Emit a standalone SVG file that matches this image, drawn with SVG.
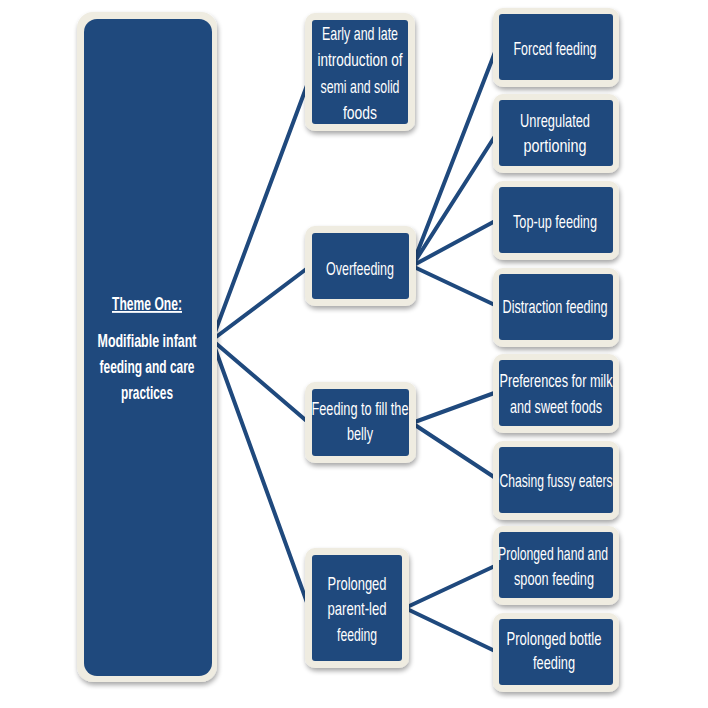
<svg xmlns="http://www.w3.org/2000/svg" width="708" height="708" viewBox="0 0 708 708">
<defs>
<filter id="sh" x="-20%" y="-20%" width="140%" height="140%">
<feGaussianBlur in="SourceAlpha" stdDeviation="2.5"/>
<feOffset dx="1" dy="3" result="b"/>
<feComponentTransfer><feFuncA type="linear" slope="0.35"/></feComponentTransfer>
<feMerge><feMergeNode/><feMergeNode in="SourceGraphic"/></feMerge>
</filter>
</defs>
<style>
.frame{fill:#efece1;filter:url(#sh)}
.box{fill:#1f497d}
.t{fill:#ffffff;font-family:"Liberation Sans",Arial,sans-serif;font-size:19px;text-anchor:middle}
.tb{font-weight:bold;font-size:18.5px}
.c{stroke:#1f497d;stroke-width:4;fill:none;stroke-linecap:round}
</style>
<rect width="708" height="708" fill="#ffffff"/>
<g id="connectors">
<line class="c" x1="212" y1="340" x2="309" y2="80"/>
<line class="c" x1="212" y1="340" x2="309" y2="267"/>
<line class="c" x1="212" y1="340" x2="309" y2="423"/>
<line class="c" x1="212" y1="340" x2="309" y2="608"/>
<line class="c" x1="412" y1="266" x2="497" y2="47"/>
<line class="c" x1="412" y1="266" x2="497" y2="133"/>
<line class="c" x1="412" y1="266" x2="497" y2="220"/>
<line class="c" x1="412" y1="266" x2="497" y2="306"/>
<line class="c" x1="412" y1="423" x2="497" y2="392"/>
<line class="c" x1="412" y1="423" x2="497" y2="479"/>
<line class="c" x1="405" y1="608" x2="497" y2="565"/>
<line class="c" x1="405" y1="608" x2="497" y2="652"/>
</g>
<g id="theme">
<rect class="frame" x="77" y="12" width="140" height="670" rx="16"/>
<rect class="box" x="84" y="19" width="128" height="657" rx="13"/>
<text class="t tb" x="147" y="310" textLength="70" lengthAdjust="spacingAndGlyphs" text-decoration="underline">Theme One:</text>
<text class="t tb" x="147" y="347" textLength="99" lengthAdjust="spacingAndGlyphs">Modifiable infant</text>
<text class="t tb" x="147" y="373" textLength="95" lengthAdjust="spacingAndGlyphs">feeding and care</text>
<text class="t tb" x="147" y="399" textLength="52" lengthAdjust="spacingAndGlyphs">practices</text>
</g>
<g id="early">
<rect class="frame" x="305" y="13" width="110" height="118" rx="10"/>
<rect class="box" x="312" y="20" width="96" height="104" rx="3"/>
<text class="t" x="360" y="40" textLength="76" lengthAdjust="spacingAndGlyphs">Early and late</text>
<text class="t" x="360" y="66" textLength="85" lengthAdjust="spacingAndGlyphs">introduction of</text>
<text class="t" x="360" y="93" textLength="79" lengthAdjust="spacingAndGlyphs">semi and solid</text>
<text class="t" x="360" y="119" textLength="34" lengthAdjust="spacingAndGlyphs">foods</text>
</g>
<g id="overfeeding">
<rect class="frame" x="305" y="226" width="111" height="80" rx="10"/>
<rect class="box" x="312" y="233" width="97" height="66" rx="3"/>
<text class="t" x="360" y="275" textLength="68" lengthAdjust="spacingAndGlyphs">Overfeeding</text>
</g>
<g id="fill">
<rect class="frame" x="305" y="382" width="111" height="81" rx="10"/>
<rect class="box" x="312" y="389" width="97" height="67" rx="3"/>
<text class="t" x="360" y="415" textLength="97" lengthAdjust="spacingAndGlyphs">Feeding to fill the</text>
<text class="t" x="360" y="440" textLength="26" lengthAdjust="spacingAndGlyphs">belly</text>
</g>
<g id="parentled">
<rect class="frame" x="305" y="548" width="104" height="120" rx="10"/>
<rect class="box" x="312" y="555" width="90" height="106" rx="3"/>
<text class="t" x="357" y="590" textLength="59" lengthAdjust="spacingAndGlyphs">Prolonged</text>
<text class="t" x="357" y="615" textLength="59" lengthAdjust="spacingAndGlyphs">parent-led</text>
<text class="t" x="357" y="641" textLength="40" lengthAdjust="spacingAndGlyphs">feeding</text>
</g>
<g id="forced">
<rect class="frame" x="493" y="8" width="126" height="79" rx="10"/>
<rect class="box" x="499" y="14" width="114" height="66" rx="3"/>
<text class="t" x="555" y="55" textLength="83" lengthAdjust="spacingAndGlyphs">Forced feeding</text>
</g>
<g id="unregulated">
<rect class="frame" x="493" y="94" width="126" height="79" rx="10"/>
<rect class="box" x="499" y="100" width="114" height="66" rx="3"/>
<text class="t" x="555" y="127" textLength="70" lengthAdjust="spacingAndGlyphs">Unregulated</text>
<text class="t" x="555" y="152" textLength="63" lengthAdjust="spacingAndGlyphs">portioning</text>
</g>
<g id="topup">
<rect class="frame" x="493" y="181" width="126" height="79" rx="10"/>
<rect class="box" x="499" y="187" width="114" height="66" rx="3"/>
<text class="t" x="555" y="228" textLength="84" lengthAdjust="spacingAndGlyphs">Top-up feeding</text>
</g>
<g id="distraction">
<rect class="frame" x="493" y="268" width="126" height="79" rx="10"/>
<rect class="box" x="499" y="274" width="114" height="66" rx="3"/>
<text class="t" x="555" y="313" textLength="105" lengthAdjust="spacingAndGlyphs">Distraction feeding</text>
</g>
<g id="preferences">
<rect class="frame" x="493" y="354" width="126" height="79" rx="10"/>
<rect class="box" x="499" y="360" width="114" height="66" rx="3"/>
<text class="t" x="556" y="387" textLength="113" lengthAdjust="spacingAndGlyphs">Preferences for milk</text>
<text class="t" x="556" y="413" textLength="92" lengthAdjust="spacingAndGlyphs">and sweet foods</text>
</g>
<g id="chasing">
<rect class="frame" x="493" y="441" width="126" height="79" rx="10"/>
<rect class="box" x="499" y="447" width="114" height="66" rx="3"/>
<text class="t" x="556" y="487" textLength="113" lengthAdjust="spacingAndGlyphs">Chasing fussy eaters</text>
</g>
<g id="handspoon">
<rect class="frame" x="493" y="526" width="126" height="79" rx="10"/>
<rect class="box" x="499" y="532" width="114" height="66" rx="3"/>
<text class="t" x="553" y="560" textLength="110" lengthAdjust="spacingAndGlyphs">Prolonged hand and</text>
<text class="t" x="554" y="585" textLength="80" lengthAdjust="spacingAndGlyphs">spoon feeding</text>
</g>
<g id="bottle">
<rect class="frame" x="493" y="613" width="126" height="79" rx="10"/>
<rect class="box" x="499" y="619" width="114" height="66" rx="3"/>
<text class="t" x="554" y="645" textLength="95" lengthAdjust="spacingAndGlyphs">Prolonged bottle</text>
<text class="t" x="554" y="669" textLength="42" lengthAdjust="spacingAndGlyphs">feeding</text>
</g>
</svg>
